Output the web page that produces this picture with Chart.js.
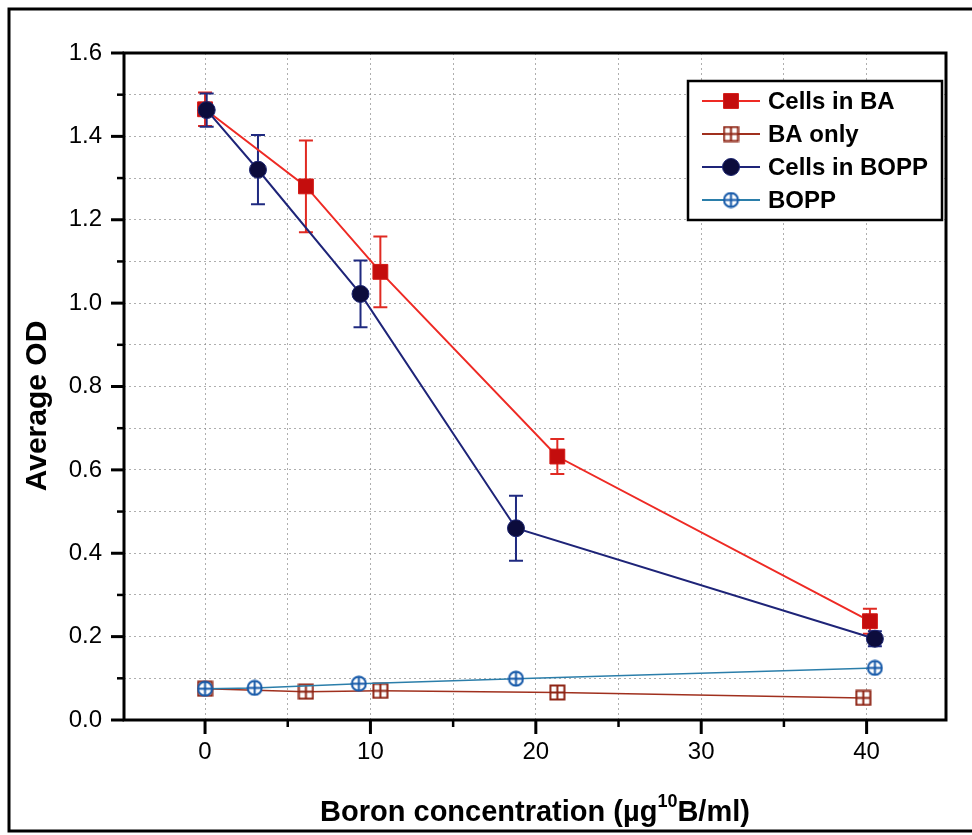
<!DOCTYPE html>
<html>
<head>
<meta charset="utf-8">
<script src="https://cdn.jsdelivr.net/npm/chart.js@4.4.0/dist/chart.umd.min.js"></script>
<style>
  body { margin: 0; background: #fff; }
  #wrap { position: relative; width: 972px; height: 835px; }
</style>
</head>
<body>
<div id="wrap"><canvas id="odChart" width="972" height="835"></canvas></div>
<script>
// boron concentration (x), average OD (y) and error bar half-heights
var baCellsX = [0, 6.1, 10.6, 21.3, 40.2];
var baCellsY = [1.465, 1.28, 1.075, 0.632, 0.237];
var baCellsErr = [0.04, 0.11, 0.085, 0.042, 0.03];

var baOnlyX = [0, 6.1, 10.6, 21.3, 39.8];
var baOnlyY = [0.075, 0.068, 0.070, 0.066, 0.053];

var boppCellsX = [0.1, 3.2, 9.4, 18.8, 40.5];
var boppCellsY = [1.463, 1.32, 1.022, 0.460, 0.195];
var boppCellsErr = [0.04, 0.083, 0.08, 0.078, 0.018];

var boppOnlyX = [0, 3.0, 9.3, 18.8, 40.5];
var boppOnlyY = [0.075, 0.077, 0.087, 0.099, 0.125];

var seriesLabels = ['Cells in BA', 'BA only', 'Cells in BOPP', 'BOPP'];
var xTickValues = [0, 5, 10, 15, 20, 25, 30, 35, 40];
var yTickValues = [0, 0.1, 0.2, 0.3, 0.4, 0.5, 0.6, 0.7, 0.8, 0.9, 1.0, 1.1, 1.2, 1.3, 1.4, 1.5, 1.6];

var FONT = '"Liberation Sans", Arial, sans-serif';

function toPoints(xs, ys) {
    return xs.map(function(x, i) { return {x: x, y: ys[i]}; });
}

// open square with a cross inside
function makeGridSquare(color) {
    var c = document.createElement('canvas');
    c.width = 17; c.height = 17;
    var g = c.getContext('2d');
    g.fillStyle = '#fff';
    g.fillRect(1.5, 1.5, 14, 14);
    g.strokeStyle = color;
    g.lineWidth = 2;
    g.strokeRect(1.5, 1.5, 14, 14);
    g.beginPath();
    g.moveTo(8.5, 1.5); g.lineTo(8.5, 15.5);
    g.moveTo(1.5, 8.5); g.lineTo(15.5, 8.5);
    g.stroke();
    return c;
}

// open circle with a plus inside
function makeCrossCircle(color) {
    var c = document.createElement('canvas');
    c.width = 17; c.height = 17;
    var g = c.getContext('2d');
    g.fillStyle = '#fff';
    g.strokeStyle = color;
    g.lineWidth = 2;
    g.beginPath();
    g.arc(8.5, 8.5, 7, 0, Math.PI * 2);
    g.fill();
    g.stroke();
    g.beginPath();
    g.moveTo(8.5, 1.5); g.lineTo(8.5, 15.5);
    g.moveTo(1.5, 8.5); g.lineTo(15.5, 8.5);
    g.stroke();
    return c;
}

var baOnlyMarker = makeGridSquare('#8e2414');
var boppMarker = makeCrossCircle('#1458a8');

var errorBars = {
    id: 'errorBars',
    beforeDatasetsDraw: function(chart) {
        var ctx = chart.ctx;
        var yScale = chart.scales.y;
        chart.data.datasets.forEach(function(ds, i) {
            if (!ds.errorBars) return;
            var meta = chart.getDatasetMeta(i);
            ctx.save();
            ctx.strokeStyle = ds.errorColor;
            ctx.lineWidth = 2;
            meta.data.forEach(function(pt, j) {
                var v = ds.data[j].y;
                var top = yScale.getPixelForValue(v + ds.errorBars[j]);
                var bot = yScale.getPixelForValue(v - ds.errorBars[j]);
                ctx.beginPath();
                ctx.moveTo(pt.x, top); ctx.lineTo(pt.x, bot);
                ctx.moveTo(pt.x - 7, top); ctx.lineTo(pt.x + 7, top);
                ctx.moveTo(pt.x - 7, bot); ctx.lineTo(pt.x + 7, bot);
                ctx.stroke();
            });
            ctx.restore();
        });
    }
};

var frameAndTicks = {
    id: 'frameAndTicks',
    afterDatasetsDraw: function(chart) {
        var ctx = chart.ctx;
        var a = chart.chartArea;
        var xs = chart.scales.x, ys = chart.scales.y;
        ctx.save();
        ctx.strokeStyle = '#000';
        ctx.lineWidth = 3;
        ctx.strokeRect(a.left, a.top, a.right - a.left, a.bottom - a.top);

        xTickValues.forEach(function(v) {
            var px = xs.getPixelForValue(v);
            var major = v % 10 === 0;
            ctx.lineWidth = major ? 3 : 2.5;
            ctx.beginPath();
            ctx.moveTo(px, a.bottom);
            ctx.lineTo(px, a.bottom + (major ? 14 : 7));
            ctx.stroke();
        });
        yTickValues.forEach(function(v, i) {
            var py = ys.getPixelForValue(v);
            var major = i % 2 === 0;
            ctx.lineWidth = major ? 3 : 2.5;
            ctx.beginPath();
            ctx.moveTo(a.left, py);
            ctx.lineTo(a.left - (major ? 13 : 7), py);
            ctx.stroke();
        });

        // page frame
        ctx.lineWidth = 3;
        ctx.beginPath();
        ctx.moveTo(980, 9); ctx.lineTo(9, 9); ctx.lineTo(9, 831); ctx.lineTo(980, 831);
        ctx.stroke();
        ctx.restore();
    }
};

// axis titles, with a real superscript on the isotope number
var axisTitles = {
    id: 'axisTitles',
    afterDraw: function(chart) {
        var ctx = chart.ctx;
        ctx.save();
        ctx.fillStyle = '#000';
        ctx.textBaseline = 'alphabetic';

        var big = 'bold 29px ' + FONT, small = 'bold 18px ' + FONT;
        var pre = 'Boron concentration (\u00b5g', sup = '10', post = 'B/ml)';
        ctx.font = big;
        var w1 = ctx.measureText(pre).width, w3 = ctx.measureText(post).width;
        ctx.font = small;
        var w2 = ctx.measureText(sup).width;
        var x = 535 - (w1 + w2 + w3) / 2, base = 821;
        ctx.font = big;
        ctx.fillText(pre, x, base);
        ctx.font = small;
        ctx.fillText(sup, x + w1, base - 14);
        ctx.font = big;
        ctx.fillText(post, x + w1 + w2, base);

        ctx.translate(46, 406);
        ctx.rotate(-Math.PI / 2);
        ctx.textAlign = 'center';
        ctx.font = 'bold 30px ' + FONT;
        ctx.fillText('Average OD', 0, 0);
        ctx.restore();
    }
};

var boxLegend = {
    id: 'boxLegend',
    afterDraw: function(chart) {
        var ctx = chart.ctx;
        var a = chart.chartArea;
        var left = a.right - 258, top = a.top + 28;
        ctx.save();
        ctx.fillStyle = '#fff';
        ctx.fillRect(left, top, 254, 139);
        ctx.strokeStyle = '#000';
        ctx.lineWidth = 2.5;
        ctx.strokeRect(left, top, 254, 139);
        [0, 1, 2, 3].forEach(function(i) {
            var ds = chart.data.datasets[i];
            var cy = top + 20 + i * 33;
            ctx.strokeStyle = ds.borderColor;
            ctx.lineWidth = 2;
            ctx.beginPath();
            ctx.moveTo(left + 14, cy); ctx.lineTo(left + 72, cy);
            ctx.stroke();
            ctx.fillStyle = ds.pointBackgroundColor;
            ctx.strokeStyle = ds.pointBorderColor;
            ctx.lineWidth = 1;
            Chart.helpers.drawPoint(ctx, {
                pointStyle: ds.pointStyle,
                radius: ds.pointRadius,
                borderWidth: 1,
                rotation: 0
            }, left + 43, cy);
            ctx.fillStyle = '#000';
            ctx.font = 'bold 24px ' + FONT;
            ctx.textBaseline = 'middle';
            ctx.fillText(ds.label, left + 80, cy + 1);
        });
        ctx.restore();
    }
};

var odChart = new Chart(document.getElementById('odChart'), {
    type: 'scatter',
    data: {
        datasets: [{
            label: seriesLabels[0],
            data: toPoints(baCellsX, baCellsY),
            errorBars: baCellsErr,
            errorColor: '#e02a22',
            showLine: true,
            borderColor: '#ee2a24',
            borderWidth: 2,
            pointStyle: 'rect',
            pointRadius: 10.5,
            pointBackgroundColor: '#c40d0d',
            pointBorderColor: '#d41a16',
            pointBorderWidth: 1,
            order: 1
        }, {
            label: seriesLabels[1],
            data: toPoints(baOnlyX, baOnlyY),
            showLine: true,
            borderColor: '#a0301e',
            borderWidth: 1.5,
            pointStyle: baOnlyMarker,
            pointRadius: 8,
            pointBackgroundColor: '#fff',
            pointBorderColor: '#8e2414',
            order: 3
        }, {
            label: seriesLabels[2],
            data: toPoints(boppCellsX, boppCellsY),
            errorBars: boppCellsErr,
            errorColor: '#1f2a80',
            showLine: true,
            borderColor: '#1e2478',
            borderWidth: 2,
            pointStyle: 'circle',
            pointRadius: 8.5,
            pointBackgroundColor: '#0c0c3c',
            pointBorderColor: '#1c2470',
            pointBorderWidth: 1,
            order: 0
        }, {
            label: seriesLabels[3],
            data: toPoints(boppOnlyX, boppOnlyY),
            showLine: true,
            borderColor: '#2b7eaa',
            borderWidth: 1.5,
            pointStyle: boppMarker,
            pointRadius: 8,
            pointBackgroundColor: '#fff',
            pointBorderColor: '#1458a8',
            order: 2
        }]
    },
    options: {
        responsive: false,
        animation: false,
        layout: {padding: {left: 0, right: 26, top: 53, bottom: 0}},
        plugins: {
            legend: {display: false},
            tooltip: {enabled: false}
        },
        scales: {
            x: {
                type: 'linear',
                min: -4.9,
                max: 44.8,
                afterBuildTicks: function(scale) {
                    scale.ticks = xTickValues.map(function(v) { return {value: v}; });
                },
                afterFit: function(scale) { scale.height = 115; },
                grid: {color: 'rgba(140,140,140,0.7)', lineWidth: 1, drawTicks: false},
                border: {display: false, dash: [2, 3]},
                ticks: {
                    autoSkip: false,
                    maxRotation: 0,
                    padding: 18,
                    color: '#000',
                    font: {family: FONT, size: 24},
                    callback: function(value) { return value % 10 === 0 ? value : ''; }
                }
            },
            y: {
                min: 0,
                max: 1.6,
                afterBuildTicks: function(scale) {
                    scale.ticks = yTickValues.map(function(v) { return {value: v}; });
                },
                afterFit: function(scale) { scale.width = 124; },
                grid: {color: 'rgba(140,140,140,0.7)', lineWidth: 1, drawTicks: false},
                border: {display: false, dash: [2, 3]},
                ticks: {
                    autoSkip: false,
                    padding: 22,
                    color: '#000',
                    font: {family: FONT, size: 24},
                    callback: function(value, index) { return index % 2 === 0 ? value.toFixed(1) : ''; }
                }
            }
        }
    },
    plugins: [errorBars, frameAndTicks, axisTitles, boxLegend]
});
</script>
</body>
</html>
